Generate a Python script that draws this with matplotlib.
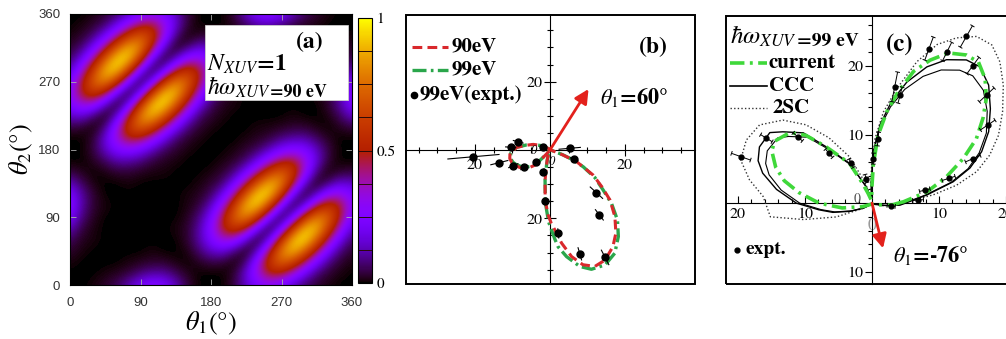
import numpy as np
import matplotlib
matplotlib.use("Agg")
import matplotlib.pyplot as plt
from matplotlib.collections import LineCollection
from matplotlib.patches import Rectangle

plt.rcParams["mathtext.fontset"] = "stix"
plt.rcParams["font.family"] = ["STIXGeneral", "DejaVu Serif"]

# ---------------- panel (a): TDCS map, theta1 x theta2 (percent of max) ----------------
theta_a = np.arange(0, 361, 15)          # grid angles (deg)
tdcs_a = [  # rows: theta2 = 0..360 ; columns: theta1 = 0..360
    [0, 0, 1, 3, 6, 13, 22, 27, 24, 14, 4, 0, 0, 0, 4, 14, 24, 27, 22, 13, 6, 3, 1, 0, 0],
    [0, 0, 0, 1, 2, 4, 8, 11, 11, 6, 2, 0, 0, 0, 3, 16, 35, 49, 47, 33, 18, 7, 3, 1, 0],
    [1, 0, 0, 0, 0, 1, 2, 3, 3, 1, 0, 2, 4, 3, 0, 7, 32, 60, 73, 63, 41, 21, 8, 3, 1],
    [3, 1, 0, 0, 0, 0, 0, 1, 0, 0, 1, 7, 14, 16, 7, 0, 13, 47, 81, 91, 73, 44, 21, 7, 3],
    [6, 2, 1, 0, 0, 0, 0, 0, 0, 0, 3, 11, 24, 35, 32, 13, 0, 17, 59, 93, 97, 73, 41, 18, 6],
    [13, 4, 1, 0, 0, 0, 0, 0, 0, 1, 3, 11, 27, 49, 60, 47, 17, 0, 20, 63, 93, 91, 63, 33, 13],
    [22, 8, 2, 0, 0, 0, 0, 0, 0, 0, 2, 8, 22, 47, 73, 81, 59, 20, 0, 20, 59, 81, 73, 47, 22],
    [27, 11, 3, 1, 0, 0, 0, 0, 0, 0, 1, 4, 13, 33, 63, 91, 93, 63, 20, 0, 17, 47, 60, 49, 27],
    [24, 11, 3, 0, 0, 0, 0, 0, 0, 0, 1, 2, 6, 18, 41, 73, 97, 93, 59, 17, 0, 13, 32, 35, 24],
    [14, 6, 1, 0, 0, 1, 0, 0, 0, 0, 0, 1, 3, 7, 21, 44, 73, 91, 81, 47, 13, 0, 7, 16, 14],
    [4, 2, 0, 1, 3, 3, 2, 1, 1, 0, 0, 0, 1, 3, 8, 21, 41, 63, 73, 60, 32, 7, 0, 3, 4],
    [0, 0, 2, 6, 11, 11, 8, 4, 2, 1, 0, 0, 0, 1, 3, 7, 18, 33, 47, 49, 35, 16, 3, 0, 0],
    [0, 0, 4, 14, 24, 27, 22, 13, 6, 3, 1, 0, 0, 0, 1, 3, 6, 13, 22, 27, 24, 14, 4, 0, 0],
    [0, 0, 3, 16, 35, 49, 47, 33, 18, 7, 3, 1, 0, 0, 0, 1, 2, 4, 8, 11, 11, 6, 2, 0, 0],
    [4, 3, 0, 7, 32, 60, 73, 63, 41, 21, 8, 3, 1, 0, 0, 0, 1, 1, 2, 3, 3, 1, 0, 2, 4],
    [14, 16, 7, 0, 13, 47, 81, 91, 73, 44, 21, 7, 3, 1, 0, 0, 0, 0, 0, 1, 0, 0, 1, 6, 14],
    [24, 35, 32, 13, 0, 17, 59, 93, 97, 73, 41, 18, 6, 2, 1, 0, 0, 0, 0, 0, 0, 0, 3, 11, 24],
    [27, 49, 60, 47, 17, 0, 20, 63, 93, 91, 63, 33, 13, 4, 1, 0, 0, 0, 0, 0, 0, 1, 3, 11, 27],
    [22, 47, 73, 81, 59, 20, 0, 20, 59, 81, 73, 47, 22, 8, 2, 0, 0, 0, 0, 0, 0, 0, 2, 8, 22],
    [13, 33, 63, 91, 93, 63, 20, 0, 17, 47, 60, 49, 27, 11, 3, 1, 0, 0, 0, 0, 0, 0, 1, 4, 13],
    [6, 18, 41, 73, 97, 93, 59, 17, 0, 13, 32, 35, 24, 11, 3, 0, 0, 0, 0, 0, 0, 0, 1, 2, 6],
    [3, 7, 21, 44, 73, 91, 81, 47, 13, 0, 7, 16, 14, 7, 1, 0, 0, 1, 0, 0, 0, 0, 0, 1, 3],
    [1, 3, 8, 21, 41, 63, 73, 60, 32, 7, 0, 3, 4, 2, 0, 1, 3, 3, 2, 1, 0, 0, 0, 0, 1],
    [0, 1, 3, 7, 18, 33, 47, 49, 35, 16, 3, 0, 0, 0, 2, 6, 11, 11, 8, 4, 2, 1, 0, 0, 0],
    [0, 0, 1, 3, 6, 13, 22, 27, 24, 14, 4, 0, 0, 0, 4, 14, 24, 27, 22, 13, 6, 3, 1, 0, 0],
]
ticks_a = [0, 90, 180, 270, 360]
cbar_ticks = [0, 0.5, 1]
cbar_labels = ["0", "0.5", "1"]

# ---------------- panel (b): theta1 = 60 deg ----------------
b90_theta = [0, 20, 60, 100, 130, 145, 152, 160, 167, 175, 185, 193, 200, 205, 212,
             218, 224, 228, 230, 234, 242, 252, 256, 258.4, 261.6, 265, 268.5, 271, 273.2, 276.5,
             280.5, 284.7, 289.4, 294.5, 300.7, 305.9, 311.6, 317.6, 322.2, 327.6,
             334.4, 337.2, 341, 350, 360]
b90_r = [0.3, 0.2, 0.1, 0.2, 0.5, 1.5, 3.0, 4.8, 6.3, 8.9, 10.7, 11.0, 10.8, 10.3, 9.6,
         8.6, 7.2, 5.9, 2.8, 0.8, 0.2, 1.2, 3.0, 4.5, 8.9, 14.7, 19.0, 21.5, 23.4, 27.4,
         31.7, 34.7, 36.1, 35.4, 32.9, 30.0, 26.1, 21.7, 17.5, 13.6,
         7.9, 3.8, 1.0, 0.4, 0.3]
b99_theta = [0, 20, 60, 100, 130, 145, 152, 160, 167, 175, 185, 193, 200, 205, 212,
             218, 224, 228, 230, 234, 242, 252, 256, 258.4, 261.6, 265.5, 269, 272.8, 274.4, 278.1,
             283.2, 287.6, 293.6, 299.8, 305.8, 311.3, 316.4, 320.5, 326, 331,
             335, 338, 341, 350, 360]
b99_r = [0.3, 0.2, 0.1, 0.2, 0.4, 1.2, 2.8, 4.6, 6.5, 9.0, 10.5, 10.8, 10.5, 10.0, 9.1,
         8.1, 6.8, 5.5, 2.6, 0.8, 0.2, 1.0, 2.8, 4.5, 8.9, 15.5, 21.0, 26.0, 28.4, 31.5,
         35.0, 36.6, 36.7, 34.8, 31.2, 27.3, 22.7, 18.4, 14.5, 10.2,
         6.8, 3.6, 1.0, 0.4, 0.3]
b_exp_theta = [185.5, 195.3, 164.1, 175.6, 205.1, 216.5, 223.5, 151, 5.4, 337.4,
               254, 265, 275.2, 284.7, 295.1, 304.8, 314.8]
b_exp_r = [20.5, 14.0, 8.8, 10.5, 10.8, 8.6, 5.2, 2.1, 5.3, 7.0,
           6.55, 15.0, 24.5, 31.4, 34.7, 23.1, 17.6]
b_exp_err = [7.0, 2.5, 1.5, 1.5, 1.5, 1.2, 1.0, 0.8, 3.0, 1.2,
             1.0, 1.0, 1.5, 2.0, 2.5, 2.0, 2.5]
b_theta1 = 60
b_arrow_len = 20.6

# ---------------- panel (c): theta1 = -76 deg, 99 eV ----------------
c_cur_theta = [0, 2.4, 11.4, 18.9, 25.5, 31.1, 36.8, 41.8, 47.1, 52.3, 56.9, 62.5, 67.4,
               72.1, 76.5, 80.6, 84.8, 88, 91, 95, 105, 112, 116, 120, 130, 135, 140, 148,
               153, 160, 166, 172, 180, 189, 200, 210, 230, 270, 310, 340, 346, 352, 356, 360]
c_cur_r = [3.9, 4.7, 8.4, 11.7, 15.1, 18.2, 20.7, 22.9, 24.8, 26.0, 25.8, 24.7, 22.6,
           20.2, 16.7, 13.5, 9.9, 5.6, 2.0, 0.6, 0.5, 1.5, 3.2, 6.7, 10.8, 14.0, 16.0, 17.1,
           16.8, 15.3, 13.5, 11.0, 7.9, 4.5, 1.5, 0.5, 0.2, 0.1, 0.2, 0.3, 1.0, 2.2, 3.2, 3.9]
c_ccc_theta = [0, 8.3, 14.4, 19.3, 24.6, 30.9, 37.9, 44.7, 51, 56, 62, 67.6, 73.6, 78.9,
               84, 88.5, 92, 96, 104, 110, 120, 130, 135, 142, 146, 154, 160, 165, 172,
               180, 187, 193, 200, 210, 225, 270, 320, 340, 350, 356, 360]
c_ccc_r = [5.0, 8.3, 12.5, 15.5, 18.0, 20.3, 22.4, 24.5, 25.6, 25.2, 23.7, 21.5, 18.4, 15.1,
           11.5, 7.5, 3.0, 0.8, 0.8, 2.6, 6.7, 10.8, 14.5, 16.9, 18.4, 18.7, 18.1, 16.9, 14.4,
           11.3, 8.0, 6.0, 3.5, 1.5, 0.3, 0.1, 0.2, 0.5, 2.0, 4.2, 5.0]
c_ccc2_r = [4.8, 8.0, 12.2, 15.2, 17.6, 19.9, 21.8, 23.4, 23.9, 23.4, 22.0, 20.0, 17.3, 14.3,
            11.0, 7.3, 3.0, 0.8, 0.8, 2.5, 6.5, 10.4, 13.6, 15.8, 17.0, 17.4, 16.9, 15.9, 13.7,
            10.8, 7.7, 5.7, 3.3, 1.4, 0.3, 0.1, 0.2, 0.5, 1.9, 4.0, 4.8]
c_2sc_theta = [0, 2.2, 7.5, 11.7, 16.4, 21.7, 27.6, 34.3, 41.3, 47.2, 52.2, 57.3, 62.4, 67.2,
               72, 77.5, 82.7, 87.3, 91, 96, 104, 110, 116.6, 124, 130.8, 137.7, 145.8, 153.9,
               162.2, 169.5, 176.5, 187.5, 193.2, 200.7, 210, 220, 270, 330, 345, 355, 360]
c_2sc_r = [4.5, 5.2, 9.2, 12.9, 16.3, 18.9, 21.3, 23.6, 26.1, 28.1, 29.2, 28.9, 27.2, 25.1,
           21.7, 17.1, 13.4, 9.4, 5.0, 2.0, 1.5, 3.5, 7.6, 11.5, 15.1, 18.0, 20.3, 20.9,
           20.6, 18.6, 16.3, 15.3, 10.5, 5.7, 1.5, 0.3, 0.1, 0.3, 1.5, 3.5, 4.5]
c_exp_theta = [352, 3.7, 13.5, 17.5, 23.3, 33.4, 42.7, 53.1, 59.9, 63.1, 69.3, 75.1, 78.7,
               84.5, 88.2, 104, 118.1, 131.4, 138.9, 149, 160.9]
c_exp_r = [2.9, 6.9, 8.1, 12.0, 16.4, 20.7, 23.3, 25.1, 28.1, 24.8, 24.1, 16.3, 17.3,
           9.4, 6.5, 3.7, 6.6, 9.7, 14.7, 18.4, 20.7]
c_exp_err = [0.6, 0.8, 0.8, 1.0, 1.2, 1.3, 1.5, 1.5, 1.8, 1.5, 1.8, 1.2, 2.2,
             1.0, 0.8, 0.6, 0.7, 0.8, 0.9, 1.0, 1.5]
c_theta1 = -76
c_arrow_len = 6.8


def to_xy(theta_deg, r):
    th = np.deg2rad(np.asarray(theta_deg, float))
    r = np.asarray(r, float)
    return r * np.cos(th), r * np.sin(th)


def radial_bars(ax, theta, r, err, cap=0.0, lw=0.8, color="k"):
    th = np.deg2rad(np.asarray(theta, float))
    r = np.asarray(r, float)
    e = np.asarray(err, float)
    c, s = np.cos(th), np.sin(th)
    segs = []
    for ci, si, ri, ei in zip(c, s, r, e):
        segs.append([((ri - ei) * ci, (ri - ei) * si), ((ri + ei) * ci, (ri + ei) * si)])
        if cap:
            for end in (ri - ei, ri + ei):
                segs.append([(end * ci + cap * si, end * si - cap * ci),
                             (end * ci - cap * si, end * si + cap * ci)])
    ax.add_collection(LineCollection(segs, colors=color, linewidths=lw, zorder=4))


W, H = 1006, 339
fig = plt.figure(figsize=(W / 100, H / 100), dpi=100)
fig.patch.set_facecolor("white")


def box(l, t, r, b):
    return [l / W, 1 - b / H, (r - l) / W, (b - t) / H]


# ================= panel (a) =================
ax = fig.add_axes(box(70, 14, 352, 285))
Z = np.array(tdcs_a, float) / 100.0
step = theta_a[1] - theta_a[0]
im = ax.imshow(Z, origin="lower", cmap="gnuplot", vmin=0, vmax=1, interpolation="bicubic",
               extent=[theta_a[0] - step / 2, theta_a[-1] + step / 2,
                       theta_a[0] - step / 2, theta_a[-1] + step / 2], aspect="auto")
ax.set_xlim(0, 360)
ax.set_ylim(0, 360)
ax.set_xticks(ticks_a)
ax.set_yticks(ticks_a)
ax.set_xticklabels([str(t) for t in ticks_a], family="Liberation Sans", fontsize=9.5, color="#333333")
ax.set_yticklabels([str(t) for t in ticks_a], family="Liberation Sans", fontsize=9.5, color="#333333")
ax.tick_params(direction="in", length=4, width=0.6, color="#aaaaaa", top=True, right=True)
ax.tick_params(axis="x", pad=9)
ax.tick_params(axis="y", pad=7)
for sp in ax.spines.values():
    sp.set_linewidth(0.8)
ax.set_xlabel(r"$\theta_1$(°)", fontsize=19, labelpad=0)
ax.set_ylabel(r"$\theta_2$(°)", fontsize=19, labelpad=2)
ax.add_patch(Rectangle((0.479, 0.683), 0.507, 0.276, transform=ax.transAxes,
                       facecolor="white", edgecolor="#cccccc", lw=0.6, zorder=3))
ax.text(0.851, 0.895, "(a)", transform=ax.transAxes, fontsize=17, fontweight="bold",
        ha="center", va="center", zorder=4)
ax.text(0.485, 0.815, r"$N_{XUV}$=1", transform=ax.transAxes, fontsize=17,
        fontweight="bold", ha="left", va="center", zorder=4)
t1 = ax.text(0.485, 0.728, r"$\hbar\omega_{XUV}$", transform=ax.transAxes, fontsize=17,
             ha="left", va="center", zorder=4)
ax.annotate("=90 eV", xy=(1.0, 0.32), xycoords=t1, fontsize=13, fontweight="bold",
            ha="left", va="center", zorder=4)

cax = fig.add_axes(box(358, 18, 372, 283))
cb = fig.colorbar(im, cax=cax, ticks=cbar_ticks)
cb.ax.set_yticklabels(cbar_labels, fontsize=11)
cb.ax.tick_params(length=0, pad=3)
cb.outline.set_linewidth(0.8)
for v in np.arange(0.125, 1.0, 0.125):
    cax.axhline(v, color="#2a0a0a", lw=0.7)


def polar_frame(ax, xlim, ylim, minor, major, major_lbl_x, major_lbl_y, xdir, ydir,
                minlen, majlen, fs):
    ax.set_xlim(*xlim)
    ax.set_ylim(*ylim)
    ax.spines["left"].set_position(("data", 0))
    ax.spines["bottom"].set_position(("data", 0))
    ax.spines["top"].set_visible(False)
    ax.spines["right"].set_visible(False)
    for k in ("left", "bottom"):
        ax.spines[k].set_linewidth(0.8)
    ax.add_patch(Rectangle((0, 0), 1, 1, transform=ax.transAxes, fill=False, lw=1.4,
                           ec="k", clip_on=False, zorder=6))
    ax.set_xticks(major[0])
    ax.set_xticklabels(major_lbl_x, fontsize=fs)
    ax.set_yticks(major[1])
    ax.set_yticklabels(major_lbl_y, fontsize=fs)
    ax.set_xticks(minor[0], minor=True)
    ax.set_yticks(minor[1], minor=True)
    ax.tick_params(axis="x", which="major", direction=xdir, length=majlen, width=0.8)
    ax.tick_params(axis="x", which="minor", direction=xdir, length=minlen, width=0.8)
    ax.tick_params(axis="y", which="major", direction=ydir, length=majlen, width=0.8)
    ax.tick_params(axis="y", which="minor", direction=ydir, length=minlen, width=0.8)


# ================= panel (b) =================
ax = fig.add_axes(box(406, 15, 695, 284))
mb = [v for v in range(-35, 40, 5) if v != 0]
polar_frame(ax, (-38.4, 38.7), (-39.2, 39.5), (mb, mb), ([-20, 20], [-20, 20]),
            ["20", "20"], ["20", "20"], "inout", "inout", 5, 8, 11.5)
ax.tick_params(axis="x", pad=2)
ax.tick_params(axis="y", pad=1)
red, green_b = "#d9282c", "#2aa64b"
x, y = to_xy(b99_theta, b99_r)
ax.plot(x, y, color=green_b, lw=2.4, dashes=(4.2, 1.3, 0.8, 1.3), zorder=3)
x, y = to_xy(b90_theta, b90_r)
ax.plot(x, y, color=red, lw=2.2, dashes=(3.2, 1.7), zorder=3)
radial_bars(ax, b_exp_theta, b_exp_r, b_exp_err, lw=0.8)
x, y = to_xy(b_exp_theta, b_exp_r)
ax.plot(x, y, "o", color="k", ms=5, zorder=5)
ax.text(-4.3, -0.2, "0", fontsize=9, fontstyle="italic", ha="center", va="center", zorder=5)
ax.text(0.4, -3.4, "0", fontsize=9, fontstyle="italic", ha="center", va="center", zorder=5)
tx, ty = to_xy([b_theta1], [b_arrow_len])
ax.annotate("", xy=(tx[0], ty[0]), xytext=(0, 0),
            arrowprops=dict(arrowstyle="-|>,head_length=0.7,head_width=0.35", color="#e3211c",
                            lw=2.0, shrinkA=0, shrinkB=0, mutation_scale=12), zorder=6)
ax.text(0.671, 0.695, r"$\theta_1$=60°", transform=ax.transAxes, fontsize=16,
        fontweight="bold", ha="left", va="center")
ax.text(0.855, 0.877, "(b)", transform=ax.transAxes, fontsize=17, fontweight="bold",
        ha="center", va="center")
ax.plot([0.021, 0.145], [0.882, 0.882], transform=ax.transAxes, color=red, lw=2.2,
        dashes=(3.2, 1.7), clip_on=False)
ax.plot([0.021, 0.145], [0.796, 0.796], transform=ax.transAxes, color=green_b, lw=2.4,
        dashes=(4.2, 1.3, 0.8, 1.3), clip_on=False)
ax.plot([0.028], [0.703], "o", color="k", ms=4.5, transform=ax.transAxes)
for yy, s, xx in ((0.882, "90eV", 0.159), (0.796, "99eV", 0.159), (0.703, "99eV(expt.)", 0.046)):
    ax.text(xx, yy, s, transform=ax.transAxes, fontsize=15, fontweight="bold",
            ha="left", va="center")

# ================= panel (c) =================
ax = fig.add_axes(box(726, 16, 1018, 284))
mcx = [v for v in range(-20, 22, 2) if v != 0]
mcy = [v for v in range(-10, 28, 2) if v != 0]
polar_frame(ax, (-21.8, 21.8), (-11.8, 27.3), (mcx, mcy), ([-20, -10, 10, 20], [-10, 10, 20]),
            ["20", "10", "10", "20"], ["10", "10", "20"], "in", "out", 3, 5, 11.5)
ax.tick_params(axis="x", pad=3)
ax.tick_params(axis="y", pad=1)
green_c = "#3fd83a"
x, y = to_xy(c_2sc_theta, c_2sc_r)
ax.plot(x, y, color="#333333", lw=1.0, dashes=(1, 1.6), zorder=3)
x, y = to_xy(c_ccc_theta, c_ccc_r)
ax.plot(x, y, color="k", lw=1.0, zorder=3)
x, y = to_xy(c_ccc_theta, c_ccc2_r)
ax.plot(x, y, color="k", lw=0.8, zorder=3)
x, y = to_xy(c_cur_theta, c_cur_r)
ax.plot(x, y, color=green_c, lw=2.6, dashes=(4.0, 1.5, 0.8, 1.5), zorder=3)
radial_bars(ax, c_exp_theta, c_exp_r, c_exp_err, cap=0.35, lw=0.7)
x, y = to_xy(c_exp_theta, c_exp_r)
ax.plot(x, y, "o", color="k", ms=3.5, zorder=5)
ax.text(-2.2, 0.5, "0", fontsize=10, color="#555555", ha="center", va="center", zorder=5)
ax.text(0.0, -3.4, "0", fontsize=13, color="#999999", ha="center", va="center", zorder=2)
tx, ty = to_xy([c_theta1], [c_arrow_len])
ax.annotate("", xy=(tx[0], ty[0]), xytext=(0, 0),
            arrowprops=dict(arrowstyle="-|>,head_length=0.7,head_width=0.35", color="#e3211c",
                            lw=2.0, shrinkA=0, shrinkB=0, mutation_scale=12), zorder=6)
ax.text(0.572, 0.108, r"$\theta_1$=-76°", transform=ax.transAxes, fontsize=16,
        fontweight="bold", ha="left", va="center")
ax.text(0.596, 0.892, "(c)", transform=ax.transAxes, fontsize=18, fontweight="bold",
        ha="center", va="center")
t2 = ax.text(0.012, 0.922, r"$\hbar\omega_{XUV}$", transform=ax.transAxes, fontsize=18,
             ha="left", va="center")
ax.annotate("=99 eV", xy=(1.0, 0.32), xycoords=t2, fontsize=14, fontweight="bold",
            ha="left", va="center")
ax.plot([0.014, 0.140], [0.825, 0.825], transform=ax.transAxes, color=green_c, lw=2.6,
        dashes=(4.0, 1.5, 0.8, 1.5), clip_on=False)
ax.plot([0.014, 0.140], [0.739, 0.739], transform=ax.transAxes, color="k", lw=1.2, clip_on=False)
ax.plot([0.014, 0.140], [0.657, 0.657], transform=ax.transAxes, color="#333333", lw=1.0,
        dashes=(1, 1.6), clip_on=False)
for yy, s, xx in ((0.825, "current", 0.144), (0.739, "CCC", 0.148), (0.657, "2SC", 0.158)):
    ax.text(xx, yy, s, transform=ax.transAxes, fontsize=15, fontweight="bold",
            ha="left", va="center")
ax.plot([0.038], [0.127], "o", color="k", ms=3.5, transform=ax.transAxes)
ax.text(0.068, 0.127, "expt.", transform=ax.transAxes, fontsize=14, fontweight="bold",
        ha="left", va="center")

fig.savefig("out.png", dpi=100)
